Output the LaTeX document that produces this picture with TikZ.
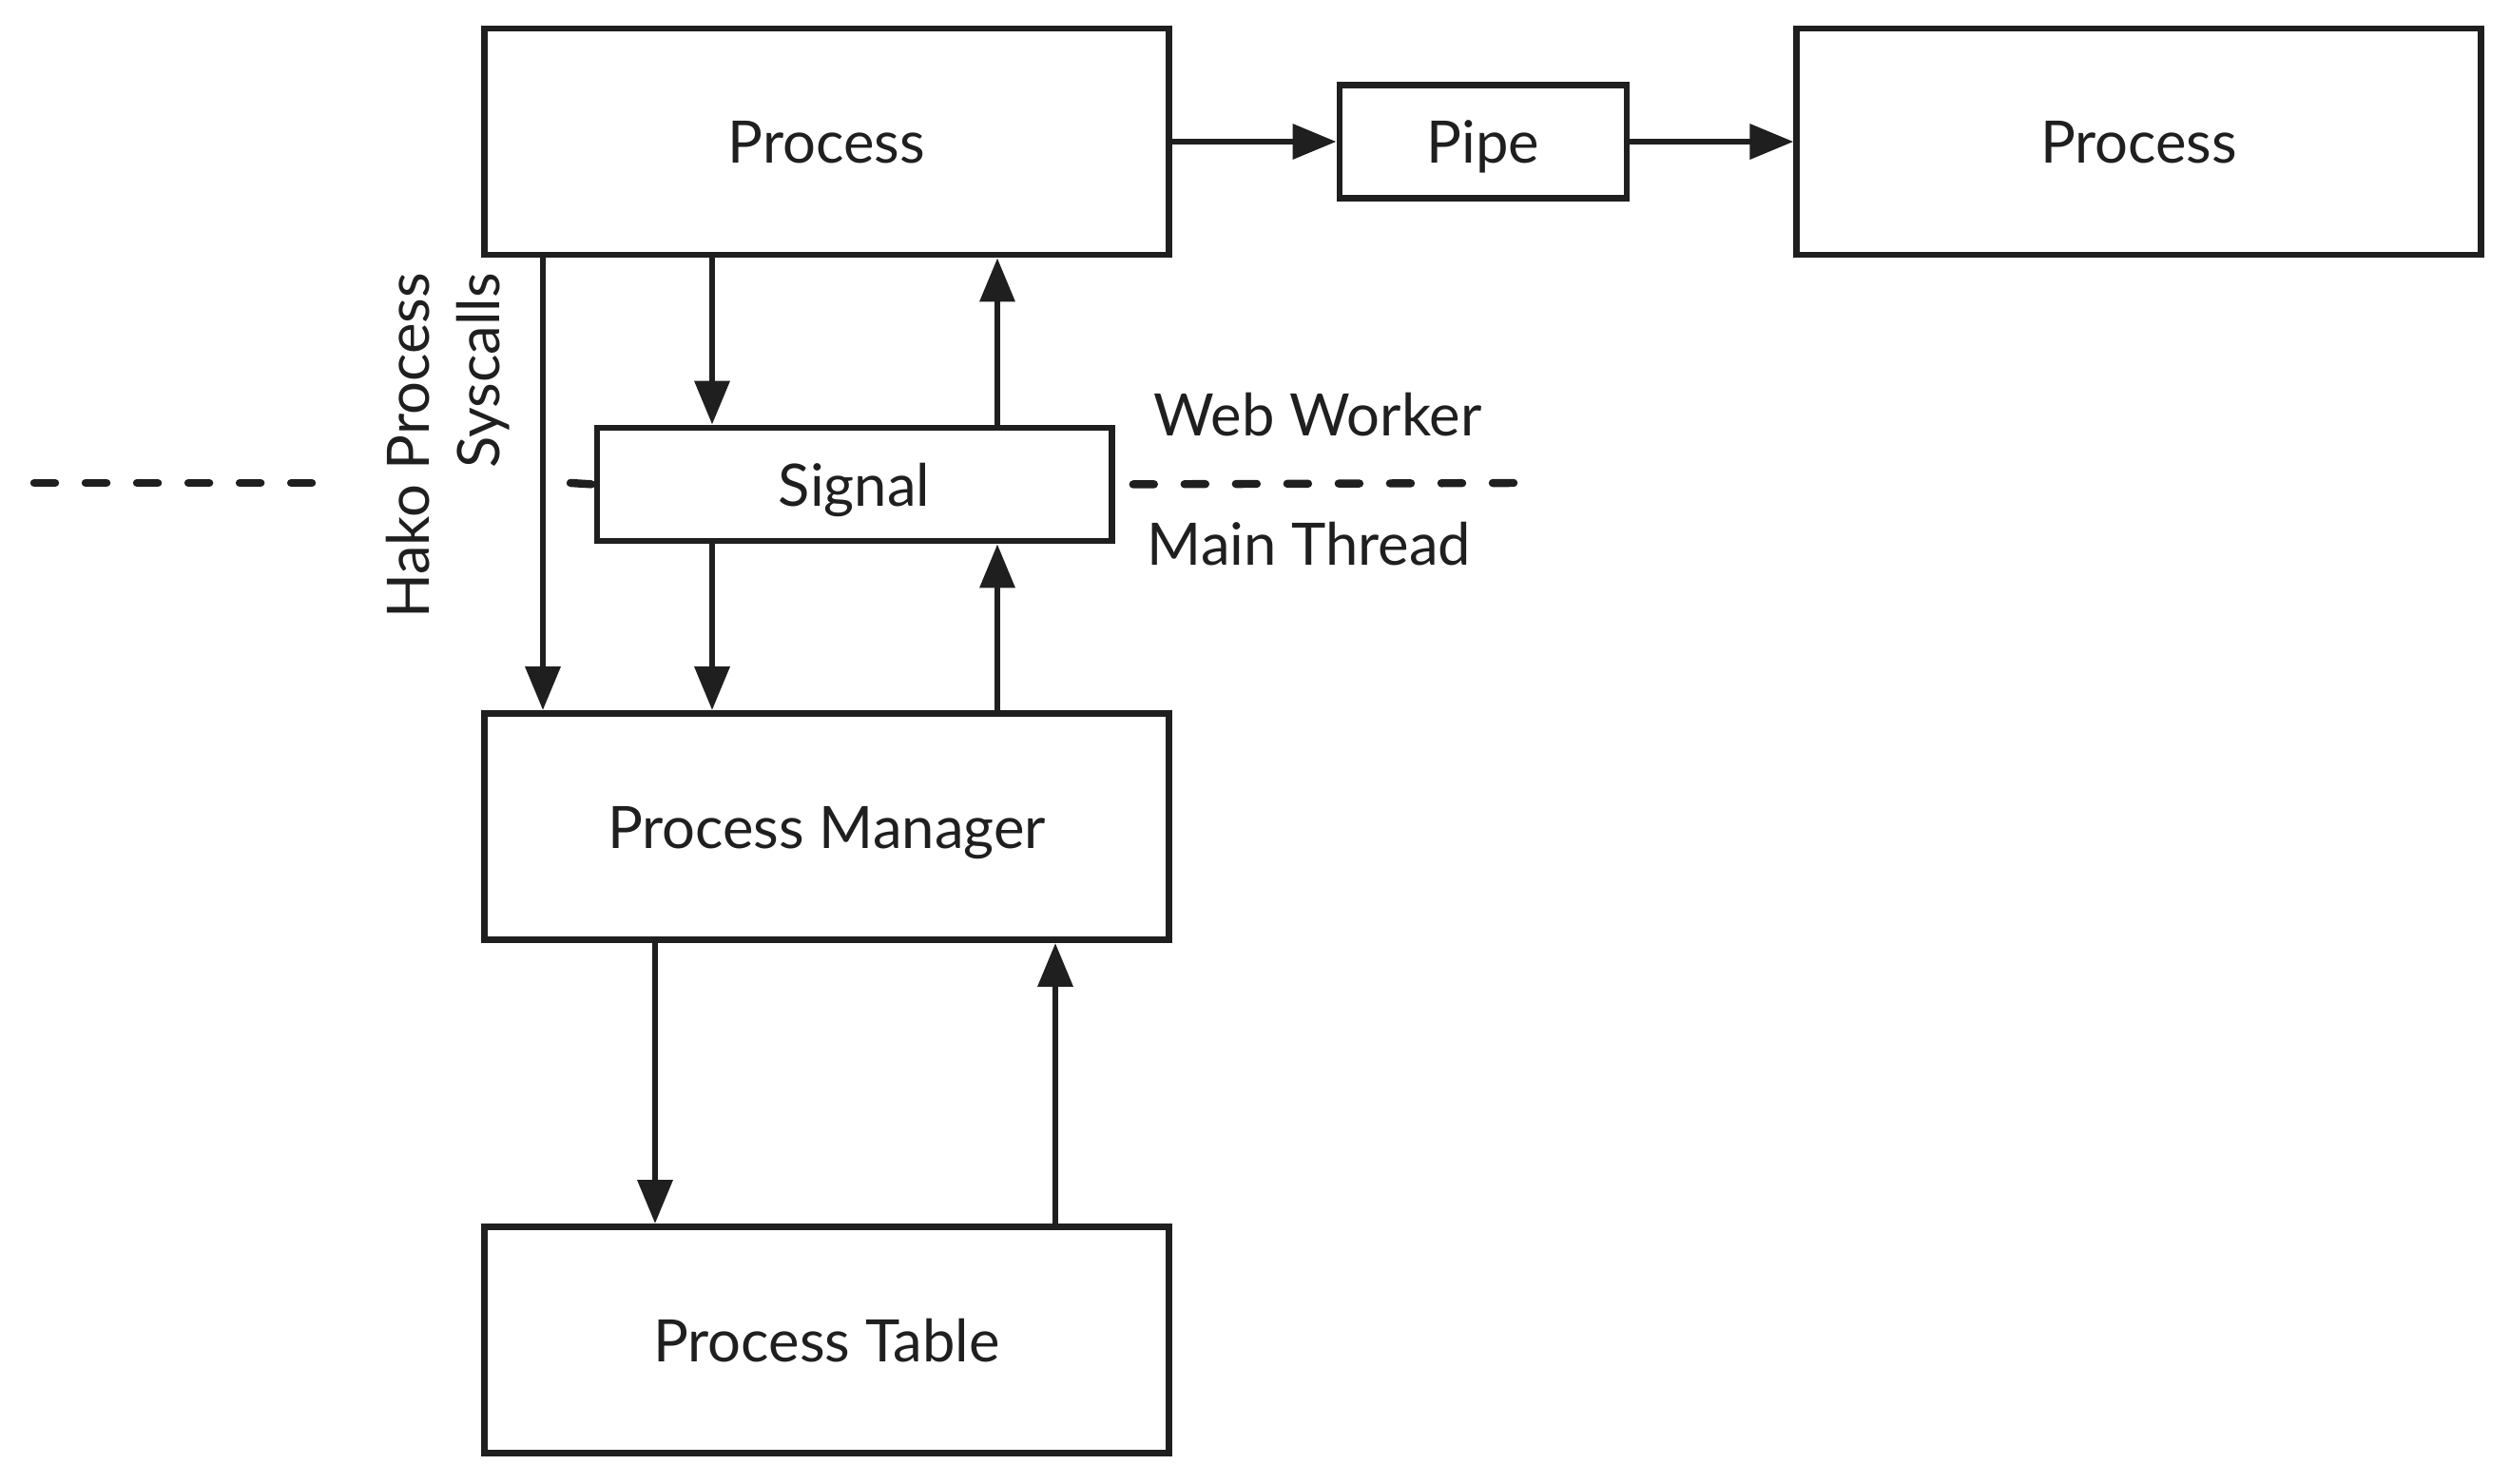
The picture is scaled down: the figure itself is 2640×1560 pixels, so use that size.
\documentclass[tikz,border=0pt]{standalone}
\usepackage{fontspec}
\setmainfont{Lato}
\usetikzlibrary{arrows.meta}

\begin{document}
\begin{tikzpicture}[%
    x=0.01cm, y=-0.01cm,              % Work in pixels of the layout, y going down
    >={Triangle[length=0.46cm, width=0.36cm]},
    line width=1.9pt,
    ]
% -------------------------------------------------
% Box and line styles
\tikzset{
  base/.style={draw=black!88, line width=1.9pt, align=center,
    font=\fontsize{17.5}{21}\selectfont, text=black!88,
    text height=15.7pt, text depth=2.8pt},
  bigbox/.style={base, rectangle, minimum width=7.19cm, minimum height=2.38cm},
  smallbox/.style={base, rectangle, minimum height=1.19cm},
  norm/.style={->, draw=black!88, line width=1.9pt},
  sep/.style={draw=black!88, line width=2.4pt, line cap=round,
    dash pattern=on 0.22cm off 0.32cm},
  lbl/.style={font=\fontsize{17.5}{21}\selectfont, text=black!88}
}
\useasboundingbox (0,0) rectangle (2640,1560);
% -------------------------------------------------
% Start by placing the nodes
\node [bigbox] (proc) at (869.5,149) {Process};
\node [smallbox, minimum width=3.02cm] (pipe) at (1560,149) {Pipe};
\node [bigbox] (proc2) at (2249.5,149) {Process};
\node [smallbox, minimum width=5.41cm, fill=white] (sig) at (898.5,509.5) {Signal};
\node [bigbox] (mgr) at (869.5,869.5) {Process Manager};
\node [bigbox] (tbl) at (869.5,1409.5) {Process Table};

% Thread boundary
\draw [sep] (36,508) -- (328,508);
\draw [sep] (600,508) -- (sig.west);
\draw [sep] (1592,508) -- (sig.east);
\node [lbl] (ww) at (1386,436) {Web Worker};
\node [lbl] (mt) at (1377,572) {Main Thread};
\node [lbl, rotate=90, align=right] (sys) at (471,469) {Hako Process\\Syscalls};

% -------------------------------------------------
% Connectors
\draw [norm] (proc) -- (pipe);
\draw [norm] (pipe) -- (proc2);
\draw [norm] (571,0 |- proc.south) -- (571,0 |- mgr.north);
\draw [norm] (749,0 |- proc.south) -- (749,0 |- sig.north);
\draw [norm] (1049,0 |- sig.north) -- (1049,0 |- proc.south);
\draw [norm] (749,0 |- sig.south) -- (749,0 |- mgr.north);
\draw [norm] (1049,0 |- mgr.north) -- (1049,0 |- sig.south);
\draw [norm] (689,0 |- mgr.south) -- (689,0 |- tbl.north);
\draw [norm] (1110,0 |- tbl.north) -- (1110,0 |- mgr.south);
% -------------------------------------------------
\end{tikzpicture}
\end{document}
